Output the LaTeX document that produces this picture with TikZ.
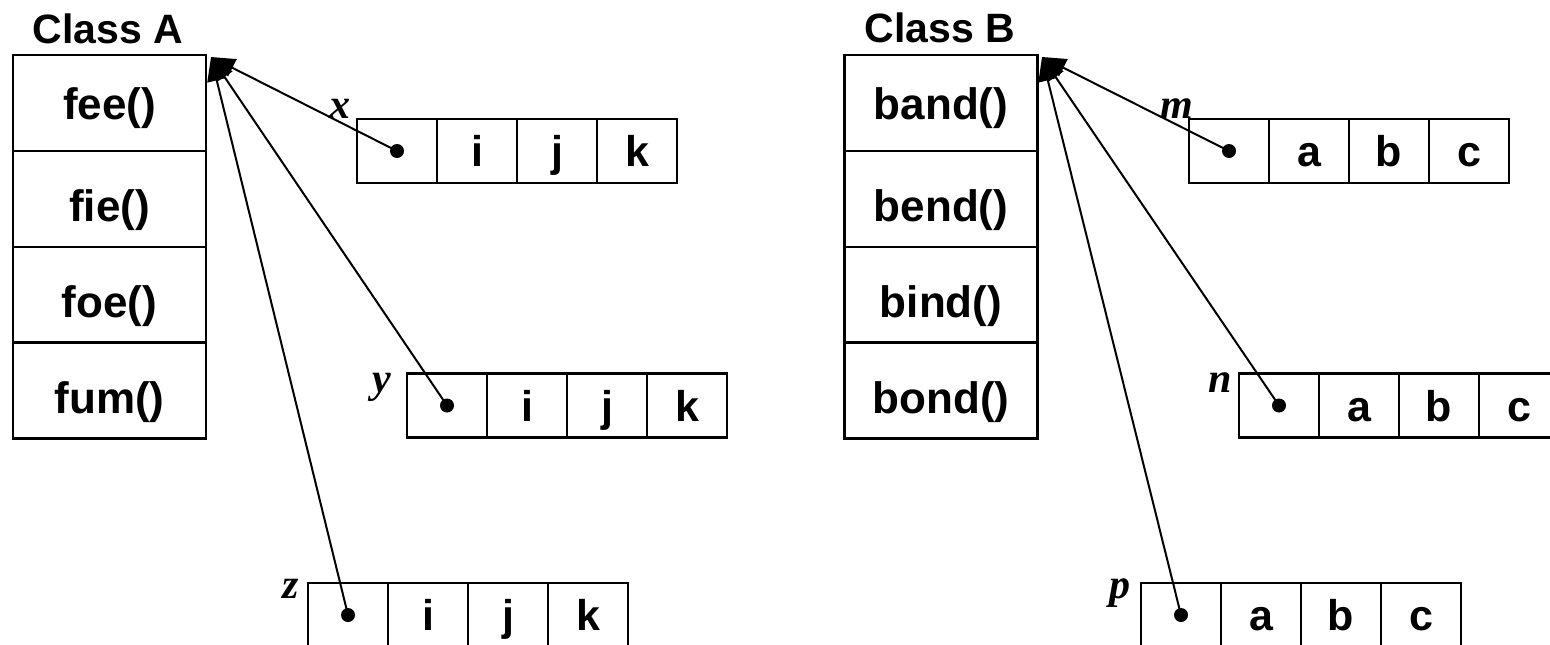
\documentclass[tikz,border=0pt]{standalone}
\usepackage{fontspec}
\setmainfont{Liberation Sans}
\newfontfamily\labfont{Liberation Serif}
\usetikzlibrary{arrows.meta,calc}

% one object record: pointer field plus three data fields
% #1 name, #2 left x, #3 centre y, #4-#6 field letters
\newcommand\objrec[6]{%
  \node[cell] (#1-0) at (#2+40,#3) {};
  \node[cell] (#1-1) at (#2+120,#3) {#4};
  \node[cell] (#1-2) at (#2+200,#3) {#5};
  \node[cell] (#1-3) at (#2+280,#3) {#6};
  \node[ptr] (#1-d) at (#1-0.center) {};
}

\begin{document}
\begin{tikzpicture}[x=1pt,y=-1pt,
  every node/.style={inner sep=0pt, outer sep=0pt},
  method/.style={draw, line width=2.4pt, minimum width=193pt, minimum height=96pt,
    text height=33pt, text depth=0pt,
    font=\fontsize{44}{44}\selectfont\bfseries},
  low/.style={text height=45pt},
  title/.style={anchor=base, font=\fontsize{41}{41}\selectfont\bfseries},
  cell/.style={draw, line width=2.4pt, minimum width=80pt, minimum height=64pt,
    text height=31pt, text depth=0pt,
    font=\fontsize{43}{43}\selectfont\bfseries},
  ptr/.style={circle, fill, minimum size=14pt},
  var/.style={anchor=base, font=\labfont\fontsize{42}{42}\selectfont\bfseries\itshape},
  ref/.style={line width=2pt, -{Triangle[length=24pt,width=19pt]}}
]
\useasboundingbox (0,0) rectangle (1550,645);
\clip (0,0) rectangle (1550,645);

% class A with its method table
\node[title] (ta-title) at (108,43) {Class A};
\node[method] (a1) at (109.5,103) {fee()};
\node[method,low] (a2) at (109.5,199) {fie()};
\node[method,low] (a3) at (109.5,295) {foe()};
\node[method,low] (a4) at (109.5,390.5) {fum()};
\coordinate (ta) at (211,57);

% class B with its method table
\node[title] (tb-title) at (940,42) {Class B};
\node[method] (b1) at (941,103) {band()};
\node[method,low] (b2) at (941,199) {bend()};
\node[method,low] (b3) at (941,295) {bind()};
\node[method,low] (b4) at (941,390.5) {bond()};
\coordinate (tb) at (1042,57);

% instances of class A
\objrec{x}{357}{151}{i}{j}{k}
\objrec{y}{407}{405.5}{i}{j}{k}
\objrec{z}{308}{615}{i}{j}{k}
\node[var] (lx) at (340,118) {x};
\node[var] (ly) at (382,392) {y};
\node[var] (lz) at (291,598) {z};

% instances of class B
\objrec{m}{1189}{151}{a}{b}{c}
\objrec{n}{1239}{405.5}{a}{b}{c}
\objrec{p}{1141}{615}{a}{b}{c}
\node[var] (lm) at (1177,118) {m};
\node[var] (ln) at (1220,392) {n};
\node[var] (lp) at (1120,598) {p};

% class pointers
\draw[ref] (x-d.center) -- (ta);
\draw[ref] (y-d.center) -- (ta);
\draw[ref] (z-d.center) -- (ta);
\draw[ref] (m-d.center) -- (tb);
\draw[ref] (n-d.center) -- (tb);
\draw[ref] (p-d.center) -- (tb);
\end{tikzpicture}
\end{document}
